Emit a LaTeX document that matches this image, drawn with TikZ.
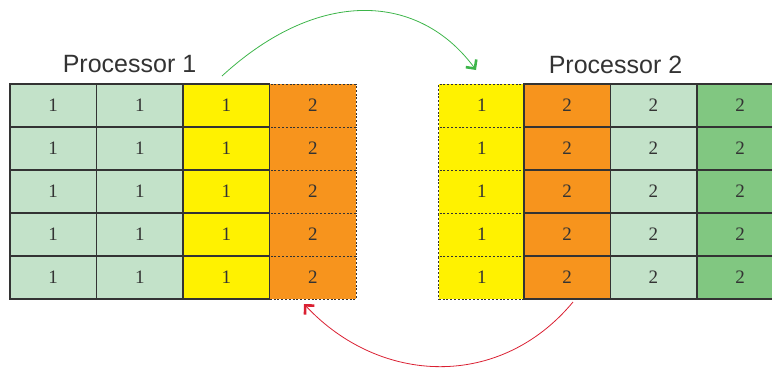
\documentclass[tikz,border=0pt]{standalone}
\usepackage{fontspec}
\setmainfont{Liberation Serif}
\newfontfamily\titlefont{Liberation Sans}
\usetikzlibrary{arrows.meta}
\definecolor{lgreen}{HTML}{C3E2C9}
\definecolor{dgreen}{HTML}{81C781}
\definecolor{cyel}{HTML}{FFF200}
\definecolor{corange}{HTML}{F7941D}
\definecolor{cedge}{HTML}{333333}
\definecolor{arrgreen}{HTML}{3DB54A}
\definecolor{arrred}{HTML}{DA2032}
\tikzset{
  cell/.style={draw=cedge, line width=1.1pt, minimum width=86.3pt, minimum height=43pt,
    inner sep=0pt, outer sep=0pt, anchor=north west, text=cedge,
    font=\fontsize{19}{19}\selectfont},
  dashcell/.style={cell, dash pattern=on 2pt off 1.8pt, line width=1pt},
  title/.style={font=\titlefont\fontsize{25}{25}\selectfont, text=black!80, inner sep=0pt},
  xfer/.style={line width=0.8pt, -{Straight Barb[length=6.5pt,width=13pt,line width=2.6pt]}}
}
\begin{document}
\begin{tikzpicture}[x=1pt,y=-1pt]
\useasboundingbox (0,0) rectangle (772,368);
\begin{scope}
\clip (0,0) rectangle (772,368);
% Processor 1 grid
\foreach \r in {0,...,4}{
  \node[dashcell, fill=corange] (pa\r) at (269.7,{84+43*\r}) {2};
}
\foreach \r in {0,...,4}{
  \node[cell, fill=lgreen] (pb\r) at (10,{84+43*\r}) {1};
  \node[cell, fill=lgreen] (pc\r) at (96.7,{84+43*\r}) {1};
  \node[cell, fill=cyel] (pd\r) at (183.3,{84+43*\r}) {1};
}
% Processor 2 grid
\foreach \r in {0,...,4}{
  \node[dashcell, fill=cyel] (qa\r) at (438.7,{84+43*\r}) {1};
}
\foreach \r in {0,...,4}{
  \node[cell, fill=corange] (qb\r) at (524,{84+43*\r}) {2};
  \node[cell, fill=lgreen] (qc\r) at (610.3,{84+43*\r}) {2};
  \node[cell, fill=dgreen] (qd\r) at (697,{84+43*\r}) {2};
}
\end{scope}
\node[title] (t1) at (129.5,64.5) {Processor 1};
\node[title] (t2) at (615.5,64.5) {Processor 2};
\coordinate (gs) at (222,76);
\coordinate (ge) at (476,70);
\coordinate (rs) at (573,302);
\coordinate (re) at (304,304);
\draw[xfer, draw=arrgreen] (gs) .. controls (320,-14) and (420,-6) .. (ge);
\draw[xfer, draw=arrred] (rs) .. controls (500,390) and (380,385) .. (re);
\end{tikzpicture}
\end{document}
